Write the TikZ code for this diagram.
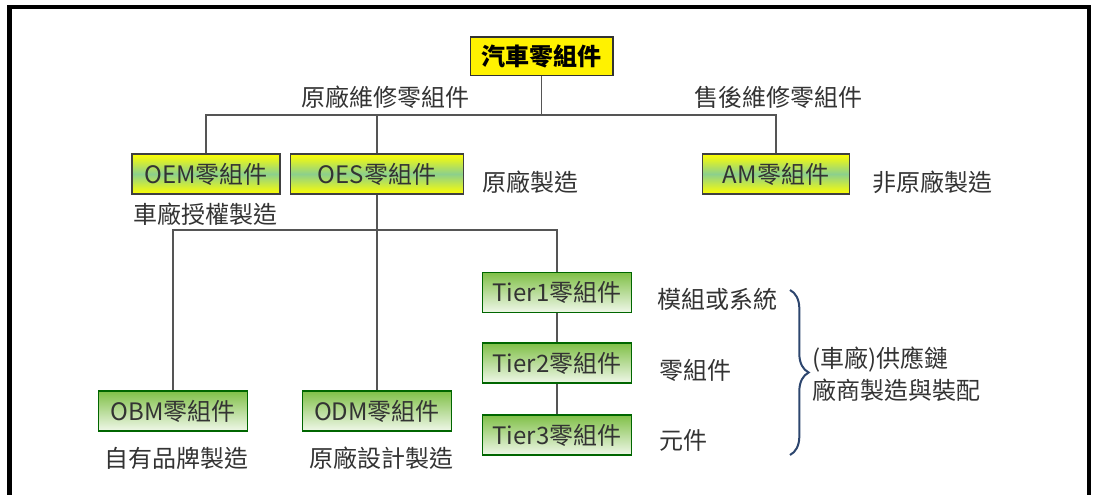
\documentclass[tikz,border=0pt]{standalone}
\usepackage{fontspec}
\setmainfont{Noto Sans CJK TC}
\usepackage{tikz}
\usetikzlibrary{decorations.pathreplacing}
\definecolor{txtgray}{RGB}{51,51,51}
\definecolor{linegray}{RGB}{85,85,85}
\definecolor{midgreen}{RGB}{140,208,140}
\definecolor{tiergreen}{RGB}{128,192,72}
\definecolor{bracecol}{RGB}{45,70,110}

\begin{document}
\begin{tikzpicture}
  [x=0.75pt,y=-0.75pt,every node/.style={text=txtgray,font=\fontsize{18}{24}\selectfont},
   ybox/.style={draw=black!75,line width=1pt,top color=yellow,bottom color=yellow,middle color=midgreen,minimum height=30pt,inner sep=0pt},
   gbox/.style={draw=black!60!green,line width=1pt,top color=tiergreen,bottom color=tiergreen!12,minimum height=30pt,inner sep=0pt},
   link/.style={draw=linegray,line width=1.1pt}]
  \useasboundingbox (0,0) rectangle (1093,495);
  \draw[line width=3.5pt] (9.5,7) rectangle (1089,530);

  \node[draw=black!80,line width=1pt,fill=yellow,text=black,minimum width=107pt,minimum height=29pt,inner sep=0pt,font=\bfseries\fontsize{18}{20}\selectfont] (root) at (541.5,56.5) {汽車零組件};
  \node[ybox,minimum width=111pt] (oem) at (206,174) {OEM零組件};
  \node[ybox,minimum width=130pt] (oes) at (377,174) {OES零組件};
  \node[ybox,minimum width=110pt] (am) at (776,174) {AM零組件};
  \node[gbox,minimum width=112pt] (tier1) at (557,292.5) {Tier1零組件};
  \node[gbox,minimum width=112pt] (tier2) at (557,363) {Tier2零組件};
  \node[gbox,minimum width=112pt] (tier3) at (557,435) {Tier3零組件};
  \node[gbox,minimum width=112pt] (obm) at (173,411) {OBM零組件};
  \node[gbox,minimum width=112pt] (odm) at (377,411) {ODM零組件};

  \node (oemrep) at (385,97) {原廠維修零組件};
  \node (amrep) at (778,97) {售後維修零組件};
  \node (oesmake) at (530,182) {原廠製造};
  \node (ammake) at (932,182) {非原廠製造};
  \node (oemmake) at (205,214) {車廠授權製造};
  \node (t1lbl) at (717,299) {模組或系統};
  \node (t2lbl) at (695,370) {零組件};
  \node (t3lbl) at (683,440) {元件};
  \node (obmmake) at (176,458) {自有品牌製造};
  \node (odmmake) at (381,458) {原廠設計製造};
  \node[anchor=west,align=left] (supply) at (808,374) {(車廠)供應鏈\\廠商製造與裝配};

  \draw[decorate,decoration={brace,amplitude=14pt},draw=bracecol,line width=1.5pt] (790,290) -- (790,455);

  \coordinate (j1) at (541.5,115);
  \coordinate (j2) at (377,230);
  \draw[link] (root.south) -- (j1);
  \foreach \to in {oem,oes,am}
    \draw[link] (j1) -| (\to.north);
  \draw[link] (oes.south) -- (odm.north);
  \foreach \to in {obm,tier1}
    \draw[link] (j2) -| (\to.north);
  \foreach \from/\to in {tier1/tier2,tier2/tier3}
    \draw[link] (\from) -- (\to);

\end{tikzpicture}
\end{document}
